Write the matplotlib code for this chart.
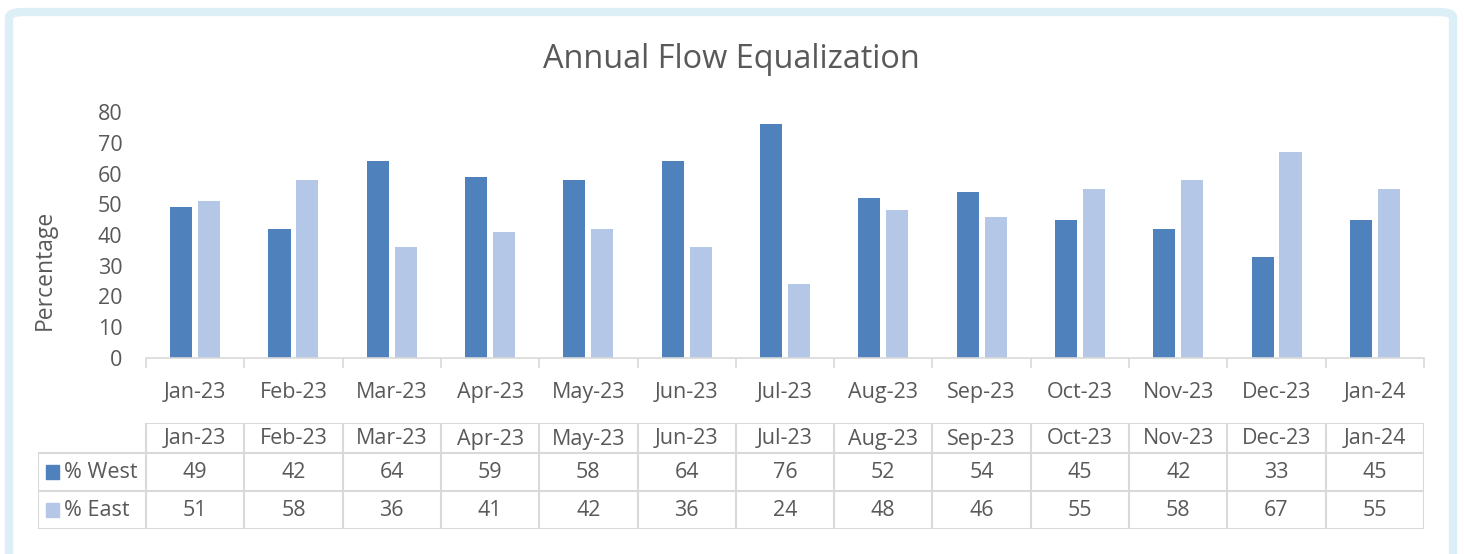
import numpy as np
import matplotlib.pyplot as plt
from matplotlib.patches import FancyBboxPatch, Rectangle

plt.rcParams['font.family'] = ['Open Sans', 'DejaVu Sans']

# data
months = ['Jan-23', 'Feb-23', 'Mar-23', 'Apr-23', 'May-23', 'Jun-23', 'Jul-23',
          'Aug-23', 'Sep-23', 'Oct-23', 'Nov-23', 'Dec-23', 'Jan-24']
west = [49, 42, 64, 59, 58, 64, 76, 52, 54, 45, 42, 33, 45]
east = [51, 58, 36, 41, 42, 36, 24, 48, 46, 55, 58, 67, 55]
series_names = ['% West', '% East']

c_west = '#4F81BD'
c_east = '#B4C7E7'
txt = '#595959'
grid = '#D9D9D9'
fs = 15.5

W, H = 1464, 554
fig = plt.figure(figsize=(W / 100, H / 100), dpi=100)

# light blue frame
frame = FancyBboxPatch((9 / W, -0.2), 1444 / W, 1.2 - 12 / H,
                       boxstyle='round,pad=0,rounding_size=0.01',
                       transform=fig.transFigure, fc='none', ec='#DDEFF6',
                       lw=6, zorder=5)
fig.patches.append(frame)

# main plot
ax = fig.add_axes([146 / W, 1 - 358 / H, (1424 - 146) / W, (358 - 112) / H])
x = np.arange(len(months))
ax.bar(x - 0.142, west, width=0.224, color=c_west)
ax.bar(x + 0.142, east, width=0.224, color=c_east)
ax.set_xlim(-0.5, len(months) - 0.5)
ax.set_ylim(0, 80)
ax.set_yticks(range(0, 81, 10))
ax.set_xticks(x)
ax.set_xticklabels(months)
ax.set_xticks(np.arange(-0.5, len(months), 1), minor=True)
ax.tick_params(axis='x', which='major', length=0, pad=17, labelsize=fs, labelcolor=txt)
ax.tick_params(axis='x', which='minor', length=7, color=grid, width=1.2)
ax.tick_params(axis='y', length=0, pad=17, labelsize=fs, labelcolor=txt)
for s in ['top', 'right', 'left']:
    ax.spines[s].set_visible(False)
ax.spines['bottom'].set_color(grid)
ax.spines['bottom'].set_linewidth(1.2)
ax.patch.set_alpha(0)

fig.text(731 / W, 1 - 60 / H, 'Annual Flow Equalization', ha='center', va='center',
         fontsize=23.4, color=txt)
fig.text(45 / W, 1 - 270 / H, 'Percentage', rotation=90, ha='center', va='center',
         fontsize=16.5, color=txt)

# data table
leg_w = (146 - 38) / ((1424 - 146) / len(months))
tb = fig.add_axes([38 / W, 1 - 529 / H, (1424 - 38) / W, (529 - 423) / H])
tb.set_xlim(-0.5 - leg_w, len(months) - 0.5)
tb.set_ylim(0, 106)
tb.axis('off')
# horizontal lines
tb.hlines([106], -0.5, len(months) - 0.5, color=grid, lw=1.5)
tb.hlines([0, 38, 76], -0.5 - leg_w, len(months) - 0.5, color=grid, lw=1.5)
# vertical lines
tb.vlines(np.arange(-0.5, len(months), 1), 0, 106, color=grid, lw=1.5)
tb.vlines([-0.5 - leg_w], 0, 76, color=grid, lw=1.5)
for i, m in enumerate(months):
    tb.text(i, 90, m, ha='center', va='center', fontsize=fs, color=txt)
    tb.text(i, 56, str(west[i]), ha='center', va='center', fontsize=fs, color=txt)
    tb.text(i, 18, str(east[i]), ha='center', va='center', fontsize=fs, color=txt)
for name, col, yc in zip(series_names, [c_west, c_east], [57, 19]):
    tb.add_patch(Rectangle((-0.5 - leg_w + 0.08, yc - 7), 0.135, 14, color=col,
                           clip_on=False))
    tb.text(-0.5 - leg_w + 0.26, yc - 1, name, ha='left', va='center', fontsize=fs,
            color=txt)

plt.savefig('out.png', dpi=100)
